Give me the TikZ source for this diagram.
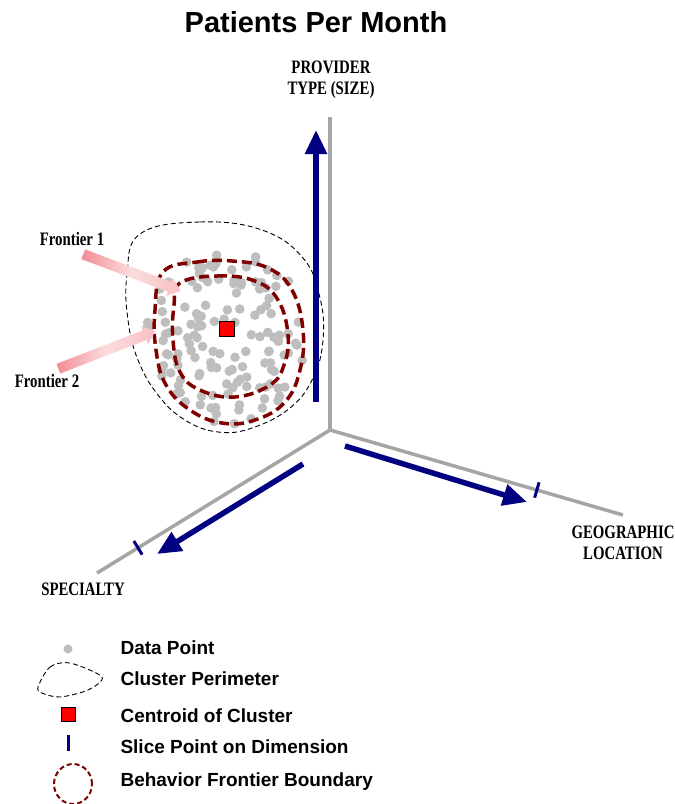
\documentclass[tikz,border=0pt]{standalone}
\usepackage{fontspec}
\setmainfont{Liberation Sans}
\newfontfamily\axisfont[FakeStretch=0.78]{Liberation Serif}
\usetikzlibrary{arrows.meta,calc,shapes.arrows}
\definecolor{navyink}{RGB}{0,0,128}
\definecolor{axisgray}{RGB}{165,165,165}
\definecolor{ptgray}{RGB}{190,190,190}
\definecolor{frontred}{RGB}{128,0,0}
\definecolor{frontpink}{RGB}{242,140,148}

\begin{document}
\begin{tikzpicture}[
  x=1pt, y=-1pt,
  axis/.style={draw=axisgray, line width=3.5pt},
  dimarrow/.style={draw=navyink, line width=5.5pt, -{Triangle[length=24pt,width=21pt]}},
  slicemark/.style={draw=navyink, line width=3pt},
  perim/.style={draw=black, line width=0.9pt, dash pattern=on 5pt off 3pt},
  frontier/.style={draw=frontred, line width=3.5pt, dash pattern=on 10pt off 5pt},
  datapt/.style={fill=ptgray},
  centroid/.style={draw=black, fill=red, line width=0.8pt, minimum size=15pt, inner sep=0pt},
  fatarrow/.style={single arrow, inner sep=5pt, single arrow head extend=4.5pt, single arrow tip angle=80,
    minimum height=104pt, left color=frontpink, right color=frontpink!55, middle color=frontpink!30},
  axlab/.style={font=\axisfont\bfseries\fontsize{19}{21}\selectfont, align=center},
  frlab/.style={font=\axisfont\bfseries\fontsize{19}{21}\selectfont},
  keylab/.style={font=\bfseries\fontsize{19}{22}\selectfont, anchor=west},
]
\useasboundingbox (0,0) rectangle (675,804);

\node[font=\bfseries\fontsize{29}{34}\selectfont] (title) at (316,22) {Patients Per Month};

% the three dimensions
\coordinate (origin) at (330,430);
\coordinate (provend) at (330,117);
\coordinate (geoend) at (623,515);
\coordinate (specend) at (97,573);
\foreach \e in {provend, geoend, specend} \draw[axis] (origin) -- (\e);

\node[axlab] (provlab) at (331,80) {PROVIDER\\TYPE (SIZE)};
\node[axlab] (geolab) at (623,543) {GEOGRAPHIC\\LOCATION};
\node[axlab] (speclab) at (83,589) {SPECIALTY};

% slice points
\coordinate (geoslice) at ($(origin)!0.706!(geoend)$);
\coordinate (specslice) at ($(origin)!0.824!(specend)$);
\draw[slicemark] ($(geoslice)!8pt!90:(geoend)$) -- ($(geoslice)!8pt!-90:(geoend)$);
\draw[slicemark] ($(specslice)!8pt!90:(specend)$) -- ($(specslice)!8pt!-90:(specend)$);

% cluster
\draw[perim] plot[smooth cycle, tension=0.7] coordinates {(140,234) (200,222) (262,230) (303,258) (320,298)
  (323,340) (313,378) (290,408) (252,428) (218,432) (185,420) (158,395) (138,360) (128,320) (127,275)};
\pgfmathsetseed{2024}
\foreach \k in {1,...,140}{
  \pgfmathsetmacro{\ptr}{sqrt(rnd)}
  \pgfmathsetmacro{\pta}{360*rnd}
  \fill[datapt] ({228+82*\ptr*cos(\pta)},{336+88*\ptr*sin(\pta)}) circle (4.8pt);
}
\draw[frontier] plot[smooth cycle, tension=0.7] coordinates {(163,272) (197,262) (232,261) (268,268) (292,290)
  (303,330) (300,370) (285,402) (255,420) (222,423) (190,410) (166,385) (156,350) (155,310)};
\draw[frontier] plot[smooth cycle, tension=0.7] coordinates {(180,283) (217,276) (255,281) (278,300) (288,335)
  (284,365) (270,385) (235,397) (200,390) (180,372) (173,340) (174,305)};
\node[centroid] (centre) at (227,329) {};

% dimension arrows
\coordinate (provtail) at (316,402); \coordinate (provtip) at (316,130);
\coordinate (geotail) at (345,446);  \coordinate (geotip) at (527,502);
\coordinate (spectail) at (303,464); \coordinate (spectip) at (157,554);
\foreach \u/\v in {provtail/provtip, geotail/geotip, spectail/spectip} \draw[dimarrow] (\u) -- (\v);

% frontier pointers
\node[frlab] (fr1lab) at (72,239) {Frontier 1};
\node[frlab] (fr2lab) at (47,381) {Frontier 2};
\coordinate (fr1tail) at (80,253);  \coordinate (fr1tip) at (178,290);
\coordinate (fr2tail) at (55,370);  \coordinate (fr2tip) at (153,332);
\node[fatarrow, rotate=-20.7] (fr1arrow) at ($(fr1tail)!0.5!(fr1tip)$) {};
\node[fatarrow, rotate=21.2] (fr2arrow) at ($(fr2tail)!0.5!(fr2tip)$) {};

% key
\node[circle, fill=ptgray, inner sep=0pt, minimum size=9pt] (keypt) at (68,649) {};
\node[keylab] (keyptlab) at (117,648) {Data Point};
\draw[perim] plot[smooth cycle] coordinates {(38,687) (50,667) (70,663) (102,677) (88,690) (60,697) (42,693)};
\node[keylab] (keyperimlab) at (117,679) {Cluster Perimeter};
\node[centroid, minimum size=14pt] (keycent) at (68,714) {};
\node[keylab] (keycentlab) at (117,716) {Centroid of Cluster};
\coordinate (keyslice) at (68,743);
\draw[slicemark] ([yshift=8pt]keyslice) -- ([yshift=-8pt]keyslice);
\node[keylab] (keyslicelab) at (117,747) {Slice Point on Dimension};
\draw[frontier, line width=2pt, dash pattern=on 5pt off 3pt] (73,784) ellipse [x radius=19pt, y radius=20pt];
\node[keylab] (keyfrlab) at (117,782) {Behavior Frontier Boundary};
\end{tikzpicture}
\end{document}
